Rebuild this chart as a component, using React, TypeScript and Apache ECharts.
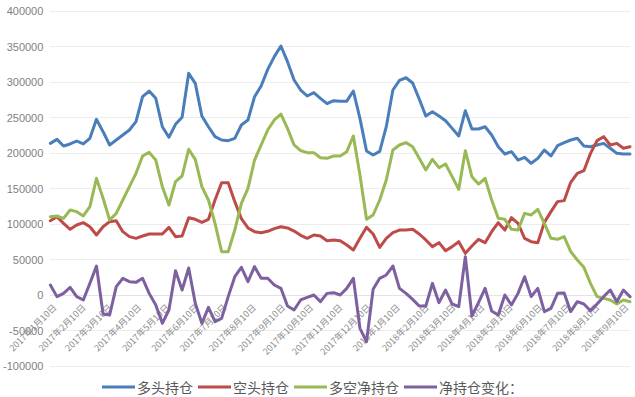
import React, { useEffect, useRef } from "react";
import * as echarts from "echarts";

// Weekly observations, first one on 2017-01-10, one every 7 days
const START = { year: 2017, month: 0, day: 10 };
const WEEK_DAYS = 7;

const seriesNames = ["多头持仓", "空头持仓", "多空净持仓", "净持仓变化："];

const longPos = [
  213600, 219200, 209900, 212700, 216900, 212700, 220700, 247400, 230000, 211300,
  218300, 225400, 232400, 244100, 279300, 287300, 277000, 237000, 222100, 240400,
  250300, 312200, 298100, 252100, 237000, 223000, 218300, 217400, 220700, 239400,
  246500, 279300, 294400, 317800, 335700, 350700, 328600, 302800, 288700, 280300,
  285000, 277000, 269500, 273700, 272800, 273000, 287300, 248800, 202800, 197200,
  202300, 237000, 288700, 302300, 306000, 298600, 276000, 252100, 258200, 252100,
  245500, 234700, 224000, 259600, 233800, 233800, 237000, 225400, 208900, 198600,
  201900, 190100, 193900, 185500, 192500, 204200, 195800, 210300, 214600, 218300,
  220700, 209900, 208900, 211300, 213600, 206600, 199500, 198600, 198600,
];

const shortPos = [
  104700, 110300, 100900, 92500, 98600, 101900, 96200, 84500, 96200, 103300,
  104700, 89200, 82200, 79800, 83100, 85900, 85900, 85900, 95300, 82200,
  83100, 108900, 106600, 102300, 106600, 133800, 158200, 158200, 131500, 107500,
  94400, 89200, 87800, 89700, 93400, 96200, 94400, 90100, 84000, 79800,
  84500, 83100, 76500, 77500, 76500, 70400, 63400, 79800, 95300, 85900,
  67100, 79800, 87800, 91500, 91500, 92500, 85900, 77500, 68100, 73700,
  62400, 68100, 75100, 58700, 69000, 78400, 73700, 89200, 101900, 91500,
  108900, 100900, 79800, 75100, 73700, 102300, 117400, 131500, 132900, 158700,
  171400, 175100, 199500, 217400, 223000, 211300, 213600, 206600, 208900,
];

const netPos = [
  110300, 111300, 108000, 119700, 117400, 111300, 124400, 164300, 136200, 105600,
  115000, 133800, 152600, 171400, 195800, 200900, 190100, 152600, 126800, 159600,
  167600, 205200, 191100, 152600, 133800, 100900, 61000, 61000, 91500, 129100,
  150200, 190100, 211300, 232400, 246500, 254900, 234700, 211300, 203300, 200500,
  200500, 193400, 192500, 195800, 195800, 201900, 224000, 169000, 106600, 112700,
  133800, 162000, 204200, 211300, 214600, 208900, 192500, 176100, 191100, 179300,
  184500, 166700, 148800, 203300, 166700, 156300, 164300, 133800, 108000, 106600,
  92500, 91500, 115000, 112700, 120700, 100900, 79800, 78400, 82200, 61000,
  49300, 39000, 16400, -2300, -4700, -7000, -12700, -7000, -9400,
];

const netChange = [
  14100, -2300, 2300, 10800, -2300, -7000, 16400, 40800, -26800, -28200,
  11700, 23500, 18800, 17800, 23500, 2300, -14100, -39900, -21100, 34300,
  7000, 38000, -11700, -39900, -17400, -37600, -32900, -2300, 25800, 39000,
  18800, 39900, 23500, 23500, 14100, 9400, -15500, -21100, -7000, -3300,
  0, -9400, 2300, 3300, 0, 9400, 23500, -46900, -65700, 8000,
  23500, 28200, 40800, 9400, 2300, -6100, -15500, -15500, 16400, -10800,
  7000, -12700, -16400, 54000, -29600, -10800, 9400, -22500, -28200, 0,
  -14100, 2300, 25800, -2300, 9400, -23500, -18800, 2300, 2700, -23500,
  -9400, -12700, -22100, -12700, -2300, 7000, -9400, 7000, -2300,
];

const tickLabels = [
  "2017年1月10日", "2017年2月10日", "2017年3月10日", "2017年4月10日", "2017年5月10日",
  "2017年6月10日", "2017年7月10日", "2017年8月10日", "2017年9月10日", "2017年10月10日",
  "2017年11月10日", "2017年12月10日", "2018年1月10日", "2018年2月10日", "2018年3月10日",
  "2018年4月10日", "2018年5月10日", "2018年6月10日", "2018年7月10日", "2018年8月10日",
  "2018年9月10日",
];

const Y_MIN = -100000;
const Y_MAX = 400000;
const Y_STEP = 50000;

const colors = ["#4A7EBB", "#BE4B48", "#98B954", "#7D60A0"];

function buildDays(count: number): string[] {
  const out: string[] = [];
  const base = Date.UTC(START.year, START.month, START.day);
  for (let d = 0; d < count; d++) {
    const dt = new Date(base + d * 86400000);
    out.push(`${dt.getUTCFullYear()}年${dt.getUTCMonth() + 1}月${dt.getUTCDate()}日`);
  }
  return out;
}

function spread(values: number[], totalDays: number): (number | null)[] {
  const arr: (number | null)[] = new Array(totalDays).fill(null);
  values.forEach((v, i) => {
    arr[i * WEEK_DAYS] = v;
  });
  return arr;
}

const GRID_TOP = 11;
const GRID_BOTTOM = 31;
const CHART_H = 397;

export default function App() {
  const ref = useRef<HTMLDivElement>(null);
  useEffect(() => {
    if (!ref.current) return;
    const chart = echarts.init(ref.current, undefined, { renderer: "svg" });
    const totalDays = (longPos.length - 1) * WEEK_DAYS + 1;
    const days = buildDays(totalDays);
    const tickSet = new Set(tickLabels);
    const all = [longPos, shortPos, netPos, netChange];
    const plotH = CHART_H - GRID_TOP - GRID_BOTTOM;
    // shift the category axis up so that it sits on the value 0
    const zeroOffset = -plotH * (0 - Y_MIN) / (Y_MAX - Y_MIN);
    chart.setOption({
      animation: false,
      backgroundColor: "#ffffff",
      color: colors,
      grid: { left: 49, right: 5, top: GRID_TOP, bottom: GRID_BOTTOM, containLabel: false },
      legend: {
        left: 97,
        top: 375,
        itemWidth: 33,
        itemHeight: 3,
        itemGap: 5,
        icon: "rect",
        data: seriesNames,
        textStyle: {
          fontSize: 14,
          color: "#595959",
          fontFamily: "Noto Sans CJK SC, sans-serif",
          padding: [0, 0, 0, -3],
        },
      },
      xAxis: {
        type: "category",
        data: days,
        boundaryGap: false,
        offset: zeroOffset,
        axisLine: { onZero: false, lineStyle: { color: "#e3e3e3", width: 1 } },
        axisTick: { show: false },
        splitLine: { show: false },
        axisLabel: {
          interval: (_i: number, v: string) => tickSet.has(v),
          rotate: 45,
          fontSize: 9,
          margin: 15,
          padding: [0, -6, 0, 0],
          color: "#8c8c8c",
          fontFamily: "Noto Sans CJK SC, sans-serif",
        },
      },
      yAxis: {
        type: "value",
        min: Y_MIN,
        max: Y_MAX,
        interval: Y_STEP,
        axisLine: { show: false },
        axisTick: { show: false },
        splitLine: { lineStyle: { color: "#ececec", width: 1 } },
        axisLabel: {
          fontSize: 11,
          margin: 7,
          color: "#7f7f7f",
          fontFamily: "Liberation Sans, sans-serif",
          formatter: (v: number) => String(v),
        },
      },
      series: all.map((vals, k) => ({
        name: seriesNames[k],
        type: "line",
        data: spread(vals, totalDays),
        connectNulls: true,
        showSymbol: false,
        symbol: "none",
        lineStyle: { width: 3, color: colors[k], cap: "round", join: "round" },
        itemStyle: { color: colors[k] },
        z: 2 + k,
      })),
    });
    return () => chart.dispose();
  }, []);
  return (
    <div
      ref={ref}
      style={{ position: "fixed", left: 0, top: 0, width: 635, height: 397, background: "#fff" }}
    />
  );
}
